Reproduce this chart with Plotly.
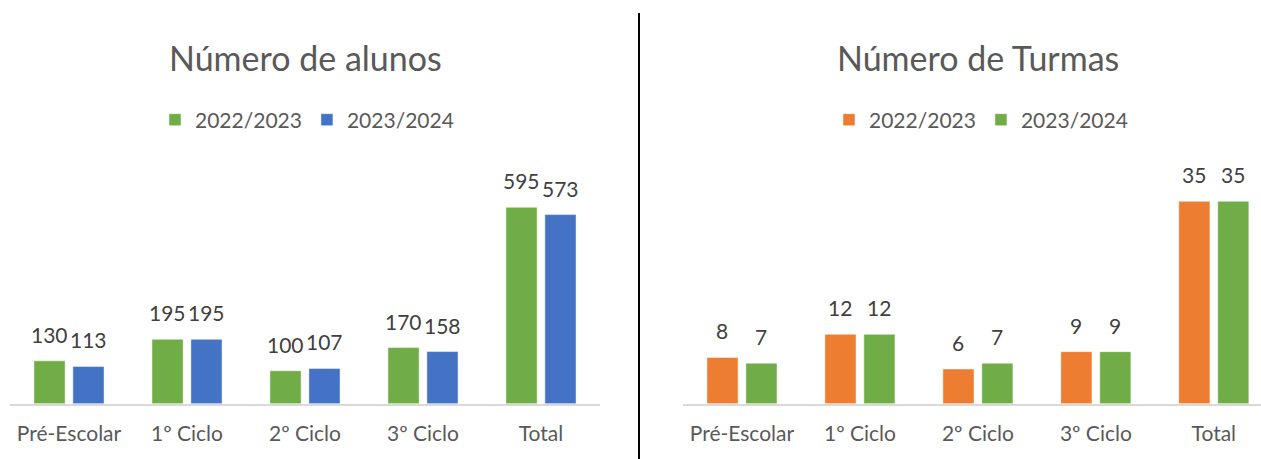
import plotly.graph_objects as go

categories = ["Pré-Escolar", "1º Ciclo", "2º Ciclo", "3º Ciclo", "Total"]
series_names = ["2022/2023", "2023/2024"]
alunos_2022 = [130, 195, 100, 170, 595]
alunos_2023 = [113, 195, 107, 158, 573]
turmas_2022 = [8, 12, 6, 9, 35]
turmas_2023 = [7, 12, 7, 9, 35]

GREEN = "#70AD47"
BLUE = "#4472C4"
ORANGE = "#ED7D31"
TXT = "#595959"
LBL = "#404040"
FONT = "Lato"

W, H = 1261, 459
def px_x(v):
    return v / W
def px_y(v):
    return 1 - v / H

fig = go.Figure()

fig.add_trace(go.Bar(x=categories, y=alunos_2022, name=series_names[0], marker_color=GREEN,
                     xaxis="x", yaxis="y", legend="legend"))
fig.add_trace(go.Bar(x=categories, y=alunos_2023, name=series_names[1], marker_color=BLUE,
                     xaxis="x", yaxis="y", legend="legend"))
fig.add_trace(go.Bar(x=categories, y=turmas_2022, name=series_names[0], marker_color=ORANGE,
                     xaxis="x2", yaxis="y2", legend="legend2"))
fig.add_trace(go.Bar(x=categories, y=turmas_2023, name=series_names[1], marker_color=GREEN,
                     xaxis="x2", yaxis="y2", legend="legend2"))

fig.update_traces(marker_line_width=0.8, marker_line_color="rgba(255,255,255,0.6)")

annotations = []
HALF = 19.5
for xr, yr, vals, sh in [("x", "y", alunos_2022, -HALF), ("x", "y", alunos_2023, HALF),
                         ("x2", "y2", turmas_2022, -HALF), ("x2", "y2", turmas_2023, HALF)]:
    for c, v in zip(categories, vals):
        annotations.append(dict(x=c, y=v, xref=xr, yref=yr, text=str(v), showarrow=False,
                                xanchor="center", yanchor="bottom", xshift=sh, yshift=12,
                                font=dict(family=FONT, size=21, color=LBL)))

annotations += [
    dict(text="Número de alunos", x=px_x(305), y=px_y(57), xref="paper", yref="paper",
         xanchor="center", yanchor="middle", showarrow=False,
         font=dict(family=FONT, size=34, color=TXT)),
    dict(text="Número de Turmas", x=px_x(978), y=px_y(57), xref="paper", yref="paper",
         xanchor="center", yanchor="middle", showarrow=False,
         font=dict(family=FONT, size=34, color=TXT)),
]

ydom = [px_y(403.7), px_y(160)]
axis_common = dict(showline=True, linecolor="#D9D9D9", linewidth=1.5, ticks="",
                   showgrid=False, zeroline=False, tickfont=dict(family=FONT, size=21, color=TXT),
                   ticklabelstandoff=10, fixedrange=True)
yaxis_common = dict(visible=False, showgrid=False, zeroline=False, domain=ydom, fixedrange=True)

fig.update_layout(
    width=W, height=H,
    margin=dict(l=0, r=0, t=0, b=0),
    paper_bgcolor="white", plot_bgcolor="white",
    bargap=0.34, bargroupgap=0.2, barmode="group",
    font=dict(family=FONT, color=TXT),
    xaxis=dict(domain=[px_x(10), px_x(600)], range=[-0.5, 4.5], anchor="y", **axis_common),
    yaxis=dict(range=[0, 738.3], anchor="x", **yaxis_common),
    xaxis2=dict(domain=[px_x(683), 1.0], range=[-0.5, 4.4], anchor="y2", **axis_common),
    yaxis2=dict(range=[0, 42.14], anchor="x2", **yaxis_common),
    legend=dict(orientation="h", x=px_x(307), xanchor="center", y=px_y(120), yanchor="middle",
                font=dict(family=FONT, size=21, color=TXT), bgcolor="rgba(0,0,0,0)", itemwidth=30),
    legend2=dict(orientation="h", x=px_x(981), xanchor="center", y=px_y(120), yanchor="middle",
                 font=dict(family=FONT, size=21, color=TXT), bgcolor="rgba(0,0,0,0)", itemwidth=30),
    showlegend=True,
    annotations=annotations,
    shapes=[
        dict(type="line", xref="paper", yref="paper", x0=px_x(639), x1=px_x(639),
             y0=px_y(13), y1=0, line=dict(color="black", width=2)),
    ],
)

fig.write_html("out.html", config={"displayModeBar": False},
               post_script="document.body.style.margin='0';document.body.style.overflow='hidden';")
